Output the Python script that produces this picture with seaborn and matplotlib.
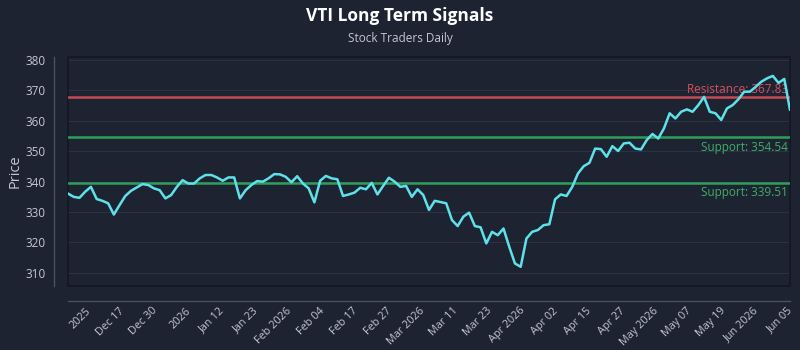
import matplotlib
matplotlib.use("Agg")
import matplotlib.pyplot as plt
import matplotlib.patches as mpatches
import seaborn as sns
import numpy as np
import pandas as pd

# VTI closing prices (one value per trading day)
prices = [
    336.1, 335.0, 334.7, 336.7, 338.3, 334.3, 333.7, 332.9, 329.2, 332.3,
    335.3, 337.0, 338.1, 339.2, 338.9, 337.8, 337.2, 334.5, 335.6, 338.3,
    340.5, 339.4, 339.4, 341.1, 342.2, 342.2, 341.4, 340.3, 341.4, 341.4,
    334.5, 337.2, 338.9,
    340.2, 340.0, 341.1, 342.5, 342.4, 341.6, 339.8, 341.8, 339.4, 337.8,
    333.2, 340.3, 341.9, 341.1, 340.8, 335.3, 335.8, 336.4, 338.0, 337.5,
    339.6, 335.8, 338.6, 341.3, 340.0, 338.3, 338.6, 335.0, 337.5, 335.6,
    330.7, 333.7, 333.3, 332.9,
    327.4, 325.4, 328.5, 329.8, 325.4, 325.0, 319.7, 323.5, 322.4, 324.6,
    318.6, 313.1, 312.0, 321.3, 323.5, 324.1, 325.7, 326.0, 334.2, 335.8,
    335.3, 338.3, 342.7, 345.1, 346.2, 350.9, 350.7, 348.2, 351.7, 350.1,
    352.6,
    352.8, 350.9, 350.6, 353.7, 355.7, 354.2, 357.5, 362.5, 360.8, 363.0,
    363.8, 363.0, 365.2, 367.9, 363.0, 362.5, 360.3, 364.1, 365.2, 367.1,
    369.6, 369.6, 371.2, 372.9, 374.0, 374.8, 372.5, 373.8, 363.6,
]

tick_labels = [
    "2025", "Dec 17", "Dec 30", "2026", "Jan 12", "Jan 23", "Feb 2026",
    "Feb 04", "Feb 17", "Feb 27", "Mar 2026", "Mar 11", "Mar 23", "Apr 2026",
    "Apr 02", "Apr 15", "Apr 27", "May 2026", "May 07", "May 19", "Jun 2026",
    "Jun 05",
]

resistance = 367.83
supports = [354.54, 339.51]

bg = "#1e2332"
text_col = "#c3c7d0"

sns.set_theme(style="dark")
plt.rcParams["font.family"] = ["Open Sans", "DejaVu Sans"]

df = pd.DataFrame({"idx": np.arange(len(prices)), "price": prices})

fig = plt.figure(figsize=(8, 3.5), dpi=100, facecolor=bg)
ax = fig.add_axes([0.085, 0.183, 0.9025, 0.654])
ax.set_facecolor(bg)

# spines first: moving a spine resets the tick objects
for side in ["top", "right"]:
    ax.spines[side].set_visible(False)
ax.spines["left"].set_position(("outward", 10))
ax.spines["bottom"].set_position(("outward", 11))
ax.spines["left"].set_color("#4a5062")
ax.spines["bottom"].set_color("#4a5062")
ax.spines["left"].set_linewidth(1)
ax.spines["bottom"].set_linewidth(1)

sns.lineplot(data=df, x="idx", y="price", ax=ax, color="#5fe1ea", linewidth=1.8, zorder=4)

ax.axhline(resistance, color="#c44a55", linewidth=1.8, zorder=3)
for s in supports:
    ax.axhline(s, color="#2f9e5c", linewidth=1.8, zorder=3)

n = len(prices) - 1
ax.set_xlim(0, n)
ax.set_ylim(305.7, 381)

ax.text(n - 0.3, resistance + 0.4, f"Resistance: {resistance:.2f}", color="#d6505c",
        ha="right", va="bottom", fontsize=8.5, zorder=2)
for s in supports:
    ax.text(n - 0.3, s - 1.0, f"Support: {s:.2f}", color="#3fae68",
            ha="right", va="top", fontsize=8.5, zorder=2)

# grid and axes styling
ax.set_yticks(range(310, 381, 10))
ax.grid(axis="y", color="#2b3243", linewidth=0.8)
ax.grid(axis="x", visible=False)
ax.set_axisbelow(True)

ax.tick_params(axis="both", colors=text_col, length=0)
ax.tick_params(axis="y", pad=6, labelsize=8.5)
ax.tick_params(axis="x", pad=3, labelsize=7.8)

ticks = np.linspace(3.0, n - 0.6, len(tick_labels))
ax.set_xticks(ticks)
ax.set_xticklabels(tick_labels, rotation=45, ha="right", rotation_mode="anchor")

ax.set_xlabel("")
ax.set_ylabel("Price", color=text_col, fontsize=10.5, labelpad=2)

frame = mpatches.Rectangle((0, 0), 1, 1, transform=ax.transAxes, fill=False,
                           edgecolor="#141824", linewidth=1.2, clip_on=False, zorder=1)
ax.add_patch(frame)

fig.text(0.5, 0.955, "VTI Long Term Signals", ha="center", va="center", color="white",
         fontsize=12.5, fontweight="bold", family=["Liberation Sans Narrow", "Open Sans", "DejaVu Sans"])
fig.text(0.5, 0.89, "Stock Traders Daily", ha="center", va="center", color=text_col, fontsize=8.5)

fig.savefig("out.png", dpi=100, facecolor=bg)
